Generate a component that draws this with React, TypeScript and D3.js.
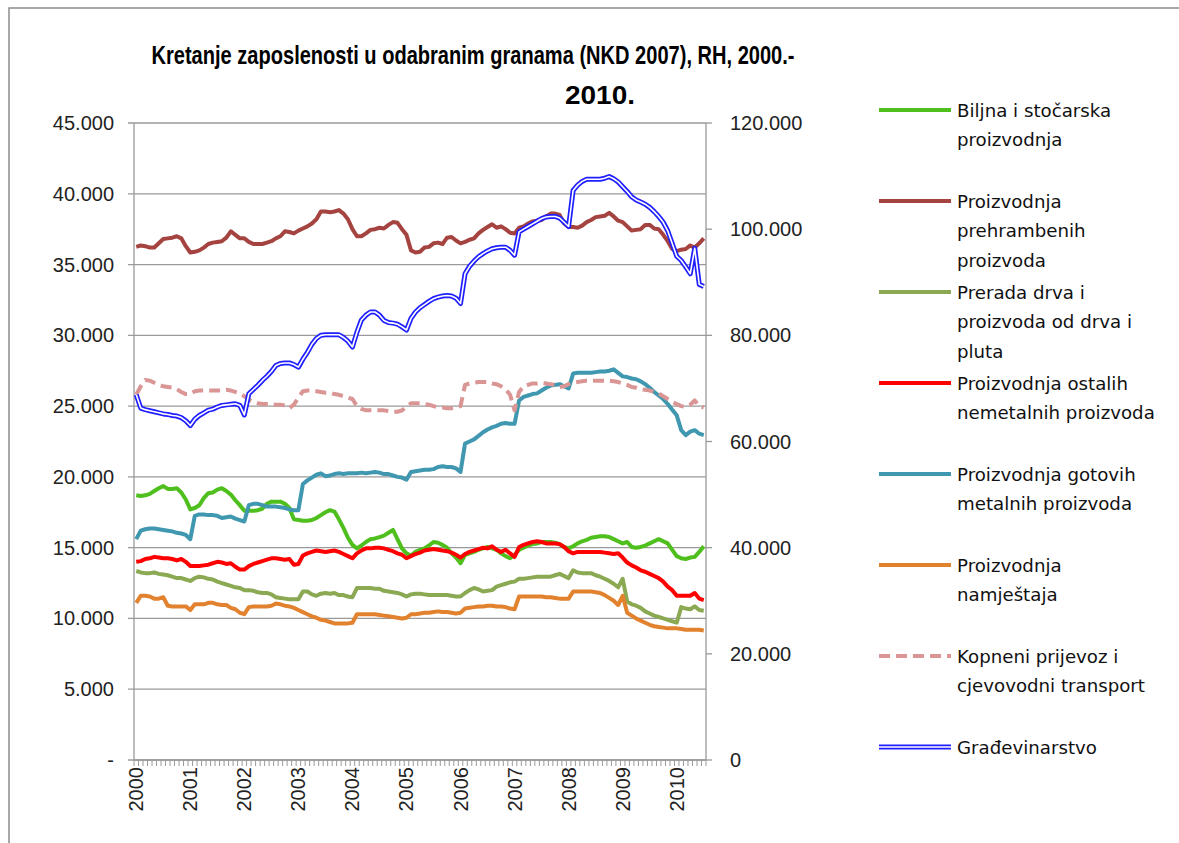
import React from "react";
import * as d3 from "d3";

// ---- DATA (thousands of employees, monthly Jan 2000 – Jul 2010) ----
const yearLabels = ["2000", "2001", "2002", "2003", "2004", "2005", "2006", "2007", "2008", "2009", "2010"];
const monthCount = 127;
const leftTicks = [0, 5, 10, 15, 20, 25, 30, 35, 40, 45];
const rightTicks = [0, 20, 40, 60, 80, 100, 120];

const biljna = [18.7, 18.65, 18.7, 18.8, 19.0, 19.2, 19.35, 19.15, 19.15, 19.2, 18.9, 18.4, 17.7, 17.8, 18.0, 18.5, 18.85, 18.9, 19.1, 19.2, 19.0, 18.75, 18.35, 18.0, 17.6, 17.6, 17.6, 17.65, 17.75, 18.1, 18.25, 18.25, 18.25, 18.1, 17.8, 17.0, 16.95, 16.9, 16.9, 16.95, 17.1, 17.3, 17.5, 17.65, 17.55, 17.0, 16.4, 15.7, 15.2, 14.95, 15.15, 15.4, 15.6, 15.65, 15.75, 15.85, 16.05, 16.25, 15.6, 14.95, 14.6, 14.45, 14.7, 14.85, 14.95, 15.15, 15.4, 15.35, 15.2, 15.0, 14.6, 14.3, 13.9, 14.5, 14.6, 14.7, 14.85, 14.95, 15.05, 14.95, 14.85, 14.6, 14.4, 14.25, 14.5, 14.85, 15.0, 15.15, 15.25, 15.3, 15.4, 15.4, 15.4, 15.35, 15.25, 15.05, 14.95, 15.1, 15.3, 15.45, 15.55, 15.7, 15.75, 15.8, 15.8, 15.75, 15.6, 15.45, 15.3, 15.4, 15.05, 15.0, 15.05, 15.15, 15.3, 15.45, 15.6, 15.45, 15.3, 14.85, 14.4, 14.25, 14.2, 14.3, 14.35, 14.7, 15.1];

const prehrambeni = [36.25, 36.35, 36.3, 36.2, 36.2, 36.5, 36.8, 36.85, 36.9, 37.0, 36.85, 36.3, 35.85, 35.9, 36.0, 36.2, 36.45, 36.55, 36.6, 36.65, 36.9, 37.35, 37.1, 36.85, 36.85, 36.6, 36.45, 36.45, 36.45, 36.55, 36.65, 36.85, 37.0, 37.35, 37.3, 37.2, 37.4, 37.55, 37.7, 37.9, 38.2, 38.75, 38.75, 38.7, 38.75, 38.85, 38.6, 38.2, 37.5, 37.0, 37.0, 37.2, 37.45, 37.5, 37.6, 37.55, 37.8, 38.0, 37.95, 37.5, 37.1, 36.0, 35.85, 35.9, 36.2, 36.25, 36.5, 36.55, 36.45, 36.9, 36.95, 36.7, 36.5, 36.6, 36.75, 36.85, 37.2, 37.45, 37.65, 37.85, 37.6, 37.7, 37.5, 37.25, 37.2, 37.6, 37.7, 37.9, 38.05, 38.1, 38.15, 38.4, 38.6, 38.6, 38.5, 37.9, 37.65, 37.65, 37.6, 37.75, 38.0, 38.15, 38.35, 38.4, 38.45, 38.65, 38.4, 38.1, 38.0, 37.7, 37.4, 37.45, 37.5, 37.8, 37.8, 37.55, 37.5, 37.1, 36.65, 36.1, 35.95, 36.05, 36.1, 36.35, 36.2, 36.5, 36.85];

const preradaDrva = [13.35, 13.25, 13.2, 13.2, 13.25, 13.15, 13.1, 13.05, 12.95, 12.85, 12.85, 12.75, 12.65, 12.85, 12.95, 12.9, 12.8, 12.75, 12.6, 12.5, 12.4, 12.3, 12.2, 12.15, 12.0, 12.0, 11.95, 11.85, 11.8, 11.8, 11.7, 11.5, 11.45, 11.4, 11.35, 11.35, 11.35, 11.9, 11.9, 11.7, 11.6, 11.75, 11.8, 11.75, 11.8, 11.65, 11.65, 11.55, 11.5, 12.15, 12.15, 12.15, 12.15, 12.1, 12.1, 11.95, 11.9, 11.85, 11.8, 11.7, 11.55, 11.7, 11.75, 11.75, 11.7, 11.65, 11.65, 11.65, 11.65, 11.65, 11.6, 11.55, 11.55, 11.8, 12.0, 12.15, 12.05, 11.9, 11.95, 12.0, 12.25, 12.35, 12.45, 12.55, 12.6, 12.8, 12.8, 12.85, 12.9, 12.95, 12.95, 12.95, 12.95, 13.05, 13.15, 13.0, 12.85, 13.4, 13.25, 13.2, 13.2, 13.2, 13.05, 12.95, 12.8, 12.65, 12.45, 12.2, 12.8, 11.2, 11.0, 10.9, 10.75, 10.5, 10.35, 10.2, 10.1, 10.0, 9.9, 9.8, 9.7, 10.8, 10.7, 10.65, 10.85, 10.6, 10.55];

const nemetalni = [14.0, 14.05, 14.2, 14.25, 14.35, 14.3, 14.25, 14.25, 14.2, 14.1, 14.2, 14.0, 13.7, 13.7, 13.7, 13.75, 13.8, 13.9, 14.0, 13.95, 13.85, 13.9, 13.65, 13.45, 13.45, 13.7, 13.85, 13.95, 14.05, 14.15, 14.25, 14.25, 14.2, 14.15, 14.2, 13.8, 13.85, 14.45, 14.6, 14.7, 14.8, 14.75, 14.7, 14.75, 14.8, 14.7, 14.55, 14.4, 14.25, 14.6, 14.8, 14.95, 14.95, 15.0, 15.0, 14.95, 14.85, 14.75, 14.6, 14.5, 14.25, 14.4, 14.55, 14.65, 14.8, 14.85, 14.9, 14.85, 14.8, 14.75, 14.65, 14.5, 14.3, 14.55, 14.7, 14.8, 14.9, 15.0, 14.95, 15.1, 14.85, 14.7, 14.85, 14.6, 14.35, 15.05, 15.2, 15.3, 15.4, 15.45, 15.4, 15.3, 15.3, 15.3, 15.25, 15.05, 14.75, 14.6, 14.7, 14.7, 14.7, 14.7, 14.7, 14.7, 14.65, 14.6, 14.55, 14.6, 14.3, 13.95, 13.75, 13.6, 13.4, 13.3, 13.15, 13.0, 12.85, 12.6, 12.25, 12.0, 11.6, 11.6, 11.6, 11.6, 11.8, 11.4, 11.3];

const metalni = [15.6, 16.2, 16.3, 16.35, 16.35, 16.3, 16.25, 16.2, 16.15, 16.05, 16.0, 15.9, 15.6, 17.25, 17.35, 17.35, 17.3, 17.3, 17.25, 17.1, 17.15, 17.2, 17.05, 16.95, 16.85, 18.0, 18.1, 18.1, 18.0, 17.9, 17.9, 17.9, 17.85, 17.8, 17.7, 17.65, 17.65, 19.5, 19.75, 19.95, 20.15, 20.25, 20.05, 20.1, 20.2, 20.25, 20.2, 20.25, 20.25, 20.25, 20.3, 20.25, 20.3, 20.35, 20.3, 20.2, 20.2, 20.1, 20.0, 19.95, 19.8, 20.35, 20.4, 20.45, 20.5, 20.5, 20.55, 20.7, 20.75, 20.7, 20.7, 20.6, 20.35, 22.35, 22.5, 22.65, 22.9, 23.15, 23.35, 23.5, 23.6, 23.75, 23.8, 23.75, 23.75, 25.4, 25.65, 25.75, 25.85, 25.9, 26.1, 26.3, 26.45, 26.5, 26.55, 26.4, 26.25, 27.3, 27.35, 27.35, 27.35, 27.35, 27.4, 27.45, 27.45, 27.5, 27.6, 27.35, 27.1, 27.05, 26.95, 26.9, 26.75, 26.55, 26.3, 26.0, 25.75, 25.5, 25.15, 24.75, 24.35, 23.3, 22.95, 23.2, 23.3, 23.05, 22.95];

const namjestaj = [11.1, 11.6, 11.6, 11.55, 11.4, 11.4, 11.5, 10.9, 10.85, 10.85, 10.85, 10.85, 10.6, 11.0, 11.0, 11.0, 11.1, 11.1, 11.0, 10.95, 10.95, 10.75, 10.65, 10.4, 10.3, 10.8, 10.85, 10.85, 10.85, 10.85, 10.9, 11.05, 11.0, 10.9, 10.85, 10.75, 10.6, 10.45, 10.3, 10.15, 10.05, 9.9, 9.85, 9.75, 9.65, 9.65, 9.65, 9.65, 9.7, 10.3, 10.3, 10.3, 10.3, 10.3, 10.25, 10.2, 10.15, 10.1, 10.05, 10.0, 10.05, 10.3, 10.3, 10.35, 10.4, 10.4, 10.45, 10.5, 10.45, 10.45, 10.4, 10.35, 10.4, 10.7, 10.75, 10.8, 10.85, 10.85, 10.9, 10.9, 10.85, 10.85, 10.8, 10.7, 10.65, 11.55, 11.55, 11.55, 11.55, 11.55, 11.55, 11.5, 11.5, 11.45, 11.4, 11.4, 11.4, 11.9, 11.9, 11.9, 11.9, 11.9, 11.85, 11.8, 11.65, 11.45, 11.25, 10.95, 11.6, 10.4, 10.2, 10.0, 9.85, 9.7, 9.55, 9.45, 9.4, 9.35, 9.3, 9.3, 9.3, 9.25, 9.2, 9.2, 9.2, 9.2, 9.15];

const kopneni = [25.8, 26.4, 26.85, 26.8, 26.65, 26.5, 26.4, 26.35, 26.3, 26.2, 26.0, 25.85, 25.85, 26.05, 26.1, 26.1, 26.1, 26.1, 26.1, 26.1, 26.15, 26.1, 26.0, 25.9, 25.7, 25.45, 25.3, 25.2, 25.15, 25.15, 25.1, 25.1, 25.1, 25.05, 24.85, 25.1, 25.6, 26.05, 26.1, 26.1, 26.05, 26.0, 25.95, 25.95, 25.85, 25.8, 25.7, 25.6, 25.5, 25.0, 24.8, 24.7, 24.7, 24.7, 24.7, 24.7, 24.65, 24.6, 24.6, 24.7, 24.95, 25.2, 25.2, 25.2, 25.15, 25.1, 25.0, 24.9, 24.9, 24.85, 24.85, 24.9, 25.0, 26.5, 26.6, 26.65, 26.7, 26.7, 26.7, 26.6, 26.55, 26.4, 26.2, 25.8, 24.7, 26.0, 26.4, 26.5, 26.6, 26.6, 26.65, 26.6, 26.55, 26.5, 26.35, 26.4, 26.55, 26.65, 26.7, 26.75, 26.8, 26.8, 26.8, 26.8, 26.8, 26.8, 26.75, 26.7, 26.6, 26.5, 26.35, 26.3, 26.2, 26.15, 26.1, 26.0, 25.9, 25.7, 25.5, 25.3, 25.15, 25.0, 24.95, 25.1, 25.4, 25.0, 24.9];

// secondary (right) axis
const gradjevinarstvo = [68.8, 66.3, 66.0, 65.8, 65.6, 65.4, 65.2, 65.1, 64.9, 64.8, 64.5, 63.9, 63.0, 64.2, 64.9, 65.4, 65.9, 66.1, 66.5, 66.8, 66.9, 67.0, 67.1, 66.8, 65.0, 69.0, 69.8, 70.6, 71.5, 72.3, 73.2, 74.3, 74.7, 74.8, 74.8, 74.5, 74.0, 75.5, 76.8, 78.3, 79.4, 80.0, 80.1, 80.1, 80.1, 80.1, 79.6, 78.9, 77.8, 80.6, 82.9, 83.8, 84.4, 84.4, 83.8, 82.8, 82.4, 82.3, 82.1, 81.6, 81.0, 83.2, 84.4, 85.2, 85.8, 86.4, 86.9, 87.2, 87.4, 87.5, 87.4, 87.0, 86.0, 91.6, 93.0, 94.0, 94.8, 95.4, 95.9, 96.3, 96.5, 96.6, 96.6, 96.0, 95.1, 99.5, 100.0, 100.5, 101.0, 101.5, 102.0, 102.3, 102.4, 102.4, 102.1, 101.3, 100.5, 107.3, 108.3, 109.0, 109.4, 109.4, 109.4, 109.4, 109.6, 109.9, 109.5, 108.9, 108.0, 107.1, 106.1, 105.5, 105.1, 104.7, 104.1, 103.3, 102.4, 101.3, 99.7, 97.3, 94.9, 94.1, 92.9, 91.6, 96.4, 89.6, 89.2];

const titleLines = ["Kretanje zaposlenosti u odabranim  granama (NKD 2007), RH, 2000.-", "2010."];

type Series = { name: string[]; values: number[]; color: string; axis: "L" | "R"; dashed?: boolean; double?: boolean };

const series: Series[] = [
  { name: ["Biljna i stočarska", "proizvodnja"], values: biljna, color: "#4EBF1C", axis: "L" },
  { name: ["Proizvodnja", "prehrambenih", "proizvoda"], values: prehrambeni, color: "#A4433F", axis: "L" },
  { name: ["Prerada drva i", "proizvoda od drva i", "pluta"], values: preradaDrva, color: "#8BA852", axis: "L" },
  { name: ["Proizvodnja ostalih", "nemetalnih proizvoda"], values: nemetalni, color: "#FF0000", axis: "L" },
  { name: ["Proizvodnja gotovih", "metalnih proizvoda"], values: metalni, color: "#3F98B0", axis: "L" },
  { name: ["Proizvodnja", "namještaja"], values: namjestaj, color: "#E2822F", axis: "L" },
  { name: ["Kopneni prijevoz i", "cjevovodni transport"], values: kopneni, color: "#D99694", axis: "L", dashed: true },
  { name: ["Građevinarstvo"], values: gradjevinarstvo, color: "#1F1FFF", axis: "R", double: true },
];

export default function App() {
  const L = 134, R = 706, T = 123, B = 760;
  const idx = d3.range(monthCount);
  const x = d3.scalePoint<number>().domain(idx).range([L, R]).padding(0.5);
  const step = (R - L) / monthCount;
  const yL = d3.scaleLinear().domain([0, 45]).range([B, T]);
  const yR = d3.scaleLinear().domain([0, 120]).range([B, T]);
  const fmt = (v: number) => d3.format(",")(v * 1000).replace(/,/g, ".");

  const numFont = "'Liberation Sans', Arial, sans-serif";
  const legFont = "'DejaVu Sans', Verdana, sans-serif";

  return (
    <svg width={1179} height={843} style={{ position: "absolute", left: 0, top: 0, background: "#fff" }}>
      <rect x={0} y={0} width={1179} height={843} fill="#fff" />
      <rect x={9} y={8} width={1200} height={900} fill="none" stroke="#8c8c8c" strokeWidth={1.5} />

      {/* title */}
      <text x={473} y={64} textAnchor="middle" fontFamily={numFont} fontWeight="bold" fontSize={25}
        textLength={643} lengthAdjust="spacingAndGlyphs" fill="#000">{titleLines[0]}</text>
      <text x={600} y={104} textAnchor="middle" fontFamily={numFont} fontWeight="bold" fontSize={25}
        textLength={70} lengthAdjust="spacingAndGlyphs" fill="#000">{titleLines[1]}</text>

      {/* gridlines */}
      {leftTicks.map((t) => (
        <line key={"g" + t} x1={L - 6} x2={R} y1={yL(t)} y2={yL(t)} stroke="#9a9a9a" strokeWidth={1.3} />
      ))}
      {leftTicks.map((t) => (
        <text key={"lt" + t} x={114} y={yL(t) + 7} textAnchor="end" fontFamily={numFont} fontSize={20} fill="#222">
          {t === 0 ? "-" : fmt(t)}
        </text>
      ))}
      {rightTicks.map((t) => (
        <g key={"rt" + t}>
          <line x1={R} x2={R + 6} y1={yR(t)} y2={yR(t)} stroke="#9a9a9a" strokeWidth={1.3} />
          <text x={730} y={yR(t) + 7} textAnchor="start" fontFamily={numFont} fontSize={20} fill="#222">
            {t === 0 ? "0" : fmt(t)}
          </text>
        </g>
      ))}

      {/* axes */}
      <line x1={L} x2={L} y1={T} y2={B} stroke="#9a9a9a" strokeWidth={1.3} />
      <line x1={R} x2={R} y1={T} y2={B} stroke="#9a9a9a" strokeWidth={1.3} />
      <line x1={L} x2={R} y1={B} y2={B} stroke="#9a9a9a" strokeWidth={1.3} />
      {d3.range(monthCount + 1).map((k) => (
        <line key={"xt" + k} x1={L + k * step} x2={L + k * step} y1={B} y2={B + 6} stroke="#9a9a9a" strokeWidth={1} />
      ))}
      {yearLabels.map((yl, k) => {
        const cx = x(k * 12)!;
        return (
          <text key={"yl" + yl} transform={`translate(${cx + 7},${767}) rotate(-90)`} textAnchor="end"
            fontFamily={numFont} fontSize={20} fill="#222">{yl}</text>
        );
      })}

      {/* series */}
      {series.map((s, si) => {
        const y = s.axis === "L" ? yL : yR;
        const path = d3.line<number>().x((_, i) => x(i)!).y((d) => y(d))(s.values) || "";
        if (s.double) {
          return (
            <g key={si}>
              <path d={path} fill="none" stroke={s.color} strokeWidth={5} strokeLinejoin="round" />
              <path d={path} fill="none" stroke="#fff" strokeWidth={1.6} strokeLinejoin="round" />
            </g>
          );
        }
        return (
          <path key={si} d={path} fill="none" stroke={s.color} strokeWidth={4}
            strokeDasharray={s.dashed ? "11,6" : undefined} strokeLinejoin="round" />
        );
      })}

      {/* legend */}
      {series.map((s, si) => {
        const ly = 110 + si * 91;
        return (
          <g key={"lg" + si}>
            {s.double ? (
              <g>
                <line x1={879} x2={951} y1={ly} y2={ly} stroke={s.color} strokeWidth={5} />
                <line x1={879} x2={951} y1={ly} y2={ly} stroke="#fff" strokeWidth={1.6} />
              </g>
            ) : (
              <line x1={879} x2={951} y1={ly} y2={ly} stroke={s.color} strokeWidth={4}
                strokeDasharray={s.dashed ? "11,6" : undefined} />
            )}
            {s.name.map((ln, j) => (
              <text key={j} x={957} y={ly + 6.5 + j * 29.5} fontFamily={legFont} fontSize={18.2} fill="#111">{ln}</text>
            ))}
          </g>
        );
      })}
    </svg>
  );
}
